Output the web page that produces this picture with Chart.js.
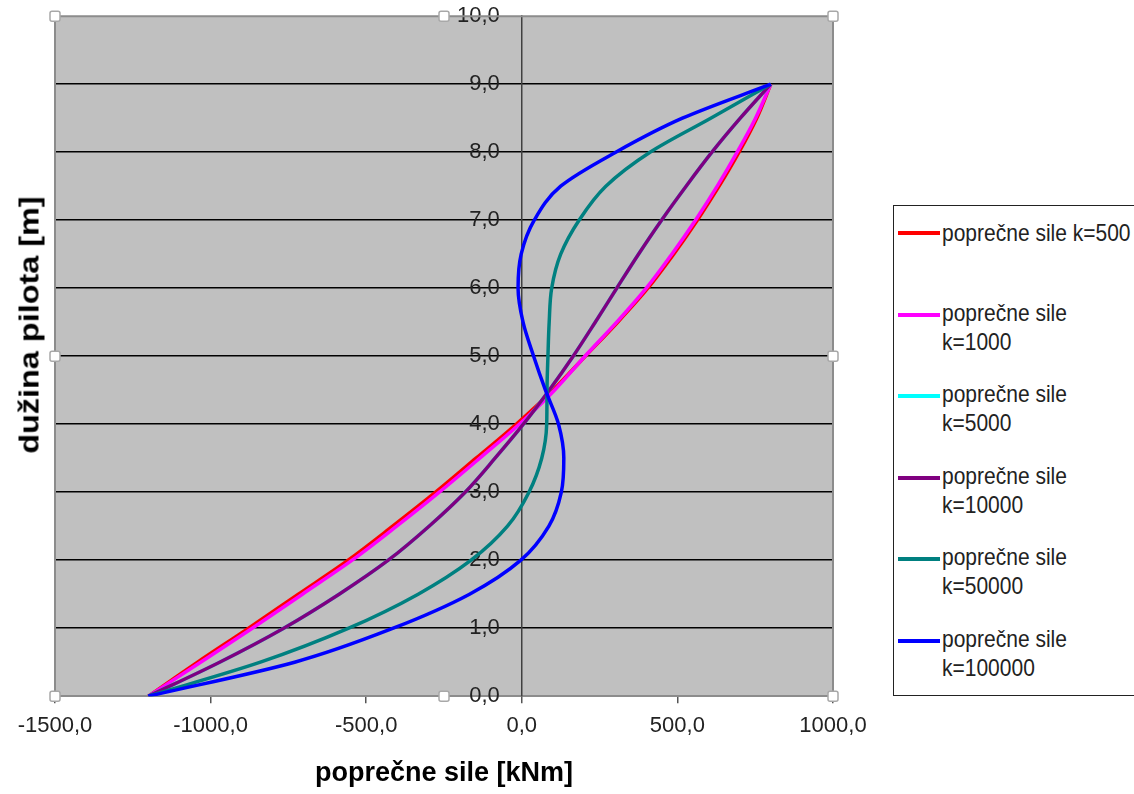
<!DOCTYPE html>
<html>
<head>
<meta charset="utf-8">
<script src="https://cdn.jsdelivr.net/npm/chart.js@4.4.1/dist/chart.umd.min.js"></script>
<style>
    html, body { margin: 0; padding: 0; background: #fff; overflow: hidden; }
    #wrap { position: relative; width: 1134px; height: 794px; }
    #yTitle {
        position: absolute; left: 30px; top: 325px;
        transform: translate(-50%, -50%) rotate(-90deg) scaleX(1.2);
        font: bold 27px "Liberation Sans", Arial, sans-serif; color: #000; white-space: nowrap;
    }
    #legendBox {
        position: absolute; left: 893px; top: 205px; width: 260px; height: 489px;
        border: 1.5px solid #222; background: #fff;
    }
    .lg-item { position: absolute; left: 0; }
    .lg-line { position: absolute; left: 4px; width: 42px; height: 4px; }
    .lg-text {
        position: absolute; left: 48px; width: 192px;
        font: 21px "Liberation Sans", Arial, sans-serif; color: #222; line-height: 26px;
        transform: scaleY(1.1); transform-origin: left center;
    }
</style>
</head>
<body>
<div id="wrap">
    <canvas id="pileChart"></canvas>
    <div id="yTitle">dužina pilota [m]</div>
    <div id="legendBox"></div>
</div>
<script>
// depth along the pile [m]
var depth = [0, 0.5, 1, 1.5, 2, 2.5, 3, 3.5, 4, 4.5, 5, 5.5, 6, 6.5, 7, 7.5, 8, 8.5, 9];

// shear forces for each k
var k500   = [-1200, -1042, -878, -718, -558, -415, -277, -147, -18, 100, 204, 308, 405, 488, 564, 634, 698, 755, 800];
var k1000  = [-1200, -1032, -866, -705, -545, -402, -265, -135, -8, 105, 203, 305, 400, 482, 558, 628, 692, 751, 800];
var k5000  = [-1200, -971, -765, -587, -429, -298, -182, -86, 5, 88, 165, 236, 305, 375, 449, 528, 611, 702, 800];
var k10000 = [-1200, -971, -765, -587, -429, -298, -182, -86, 5, 88, 165, 236, 305, 375, 449, 528, 611, 702, 800];
var k50000 = [-1200, -840, -556, -333, -163, -46, 23, 64, 80, 81, 84, 88, 96, 125, 184, 270, 412, 607, 800];
var k100000 = [-1200, -730, -413, -168, -3, 87, 127, 135, 118, 76, 38, 4, -12, -2, 40, 125, 302, 516, 800];

var seriesLabels = ['poprečne sile k=500', 'poprečne sile k=1000', 'poprečne sile k=5000',
                    'poprečne sile k=10000', 'poprečne sile k=50000', 'poprečne sile k=100000'];
var seriesValues = [k500, k1000, k5000, k10000, k50000, k100000];

var xTicks = [-1500, -1000, -500, 0, 500, 1000];
var yTicks = [0, 1, 2, 3, 4, 5, 6, 7, 8, 9, 10];

var lineColors = ['#ff0000', '#ff00ff', '#00ffff', '#800080', '#008080', '#0000ff'];

function fmt(v) {
    return v.toFixed(1).replace('.', ',');
}

// gray plot area, frame and the little selection handles
var plotFrame = {
    id: 'plotFrame',
    beforeDraw: function (chart) {
        var ctx = chart.ctx, a = chart.chartArea;
        ctx.save();
        ctx.fillStyle = '#c0c0c0';
        ctx.fillRect(a.left, a.top, a.right - a.left, a.bottom - a.top);
        ctx.restore();
    },
    afterDraw: function (chart) {
        var ctx = chart.ctx, a = chart.chartArea;
        ctx.save();
        ctx.strokeStyle = '#8c8c8c';
        ctx.lineWidth = 2;
        ctx.beginPath();
        ctx.moveTo(a.left, a.bottom);
        ctx.lineTo(a.left, a.top);
        ctx.lineTo(a.right, a.top);
        ctx.lineTo(a.right, a.bottom);
        ctx.stroke();

        var mx = (a.left + a.right) / 2, my = (a.top + a.bottom) / 2;
        var handles = [[a.left, a.top], [mx, a.top], [a.right, a.top], [a.left, my],
                       [a.right, my], [a.left, a.bottom], [mx, a.bottom], [a.right, a.bottom]];
        handles.forEach(function (h) {
            ctx.beginPath();
            ctx.roundRect(h[0] - 5, h[1] - 5, 10, 10, 2);
            ctx.fillStyle = '#ffffff';
            ctx.fill();
            ctx.strokeStyle = '#a8a8a8';
            ctx.lineWidth = 1.5;
            ctx.stroke();
        });
        ctx.restore();
    }
};

var datasets = seriesValues.map(function (vals, i) {
    return {
        label: seriesLabels[i],
        data: depth.map(function (d, j) { return { x: vals[j], y: d }; }),
        borderColor: lineColors[i],
        backgroundColor: lineColors[i],
        borderWidth: 3.5,
        pointRadius: 0,
        showLine: true,
        cubicInterpolationMode: 'monotone',
        order: seriesValues.length - i   // later series on top, like the original
    };
});

var ctx = document.getElementById('pileChart').getContext('2d');
var pileChart = new Chart(ctx, {
    type: 'scatter',
    data: { datasets: datasets },
    options: {
        responsive: true,
        maintainAspectRatio: false,
        animation: false,
        indexAxis: 'y',
        layout: { padding: { left: 55, right: 301, top: 12, bottom: 4 } },
        plugins: {
            legend: { display: false },
            tooltip: { enabled: false }
        },
        scales: {
            x: {
                type: 'linear',
                min: -1500,
                max: 1000,
                afterBuildTicks: function (axis) {
                    axis.ticks = xTicks.map(function (v) { return { value: v }; });
                },
                ticks: {
                    padding: 10,
                    color: '#222',
                    font: { family: '"Liberation Sans", Arial, sans-serif', size: 22 },
                    callback: function (v) { return fmt(v); }
                },
                grid: { drawOnChartArea: false, drawTicks: true, tickLength: 7, color: '#555', lineWidth: 1.5 },
                border: { color: '#8c8c8c', width: 2 },
                title: {
                    display: true,
                    text: 'poprečne sile [kNm]',
                    color: '#000',
                    padding: { top: 8, bottom: 0 },
                    font: { family: '"Liberation Sans", Arial, sans-serif', size: 27, weight: 'bold' }
                }
            },
            y: {
                type: 'linear',
                position: { x: 0 },
                min: 0,
                max: 10,
                afterBuildTicks: function (axis) {
                    axis.ticks = yTicks.map(function (v) { return { value: v }; });
                },
                ticks: {
                    color: '#222',
                    font: { family: '"Liberation Sans", Arial, sans-serif', size: 22 },
                    // trailing spaces keep the label clear of the axis line
                    callback: function (v) { return fmt(v) + '\u2002\u2002'; }
                },
                grid: {
                    drawTicks: false,
                    lineWidth: 1.5,
                    color: function (c) {
                        var v = c.tick ? c.tick.value : 0;
                        return (v > 0 && v < 10) ? '#000' : 'rgba(0,0,0,0)';
                    }
                },
                border: { color: '#404040', width: 1.5 }
            }
        }
    },
    plugins: [plotFrame]
});

// legend box, built from the same series
var box = document.getElementById('legendBox');
seriesLabels.forEach(function (name, i) {
    var item = document.createElement('div');
    item.className = 'lg-item';
    item.style.top = (14 + i * 81.6) + 'px';
    var line = document.createElement('div');
    line.className = 'lg-line';
    line.style.background = lineColors[i];
    line.style.top = '11px';
    var txt = document.createElement('div');
    txt.className = 'lg-text';
    txt.style.top = '0px';
    txt.textContent = name;
    item.appendChild(line);
    item.appendChild(txt);
    box.appendChild(item);
});
</script>
</body>
</html>
